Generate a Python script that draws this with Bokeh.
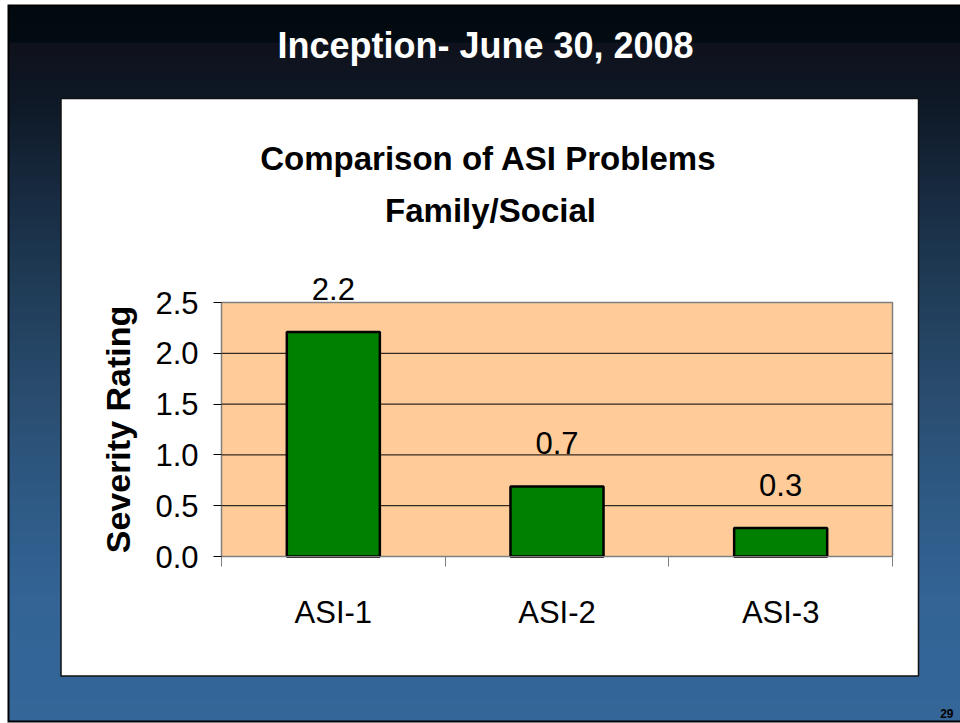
from bokeh.plotting import figure
from bokeh.models import (Range1d, FixedTicker, Label, LabelSet, LinearAxis,
                          ColumnDataSource, PrintfTickFormatter)
from bokeh.core.properties import value
from bokeh.embed import file_html
from bokeh.resources import INLINE

# ---- data ----
categories = ["ASI-1", "ASI-2", "ASI-3"]
severity = [2.21, 0.69, 0.28]
y_ticks = [0.0, 0.5, 1.0, 1.5, 2.0, 2.5]
slide_title = "Inception- June 30, 2008"
chart_title_1 = "Comparison of ASI Problems"
chart_title_2 = "Family/Social"
y_label = "Severity Rating"
page_number = "29"

FONT = "Liberation Sans"
W, H = 960, 723
FL, FR, FT, FB = 221, 892, 302, 556   # chart plot-area edges in canvas px

n = len(categories)
ymin, ymax = y_ticks[0], y_ticks[-1]
ux = n / (FR - FL)
uy = (ymax - ymin) / (FB - FT)
x_range = Range1d(0 - FL * ux, n + (W - FR) * ux)
y_range = Range1d(ymin - (H - FB) * uy, ymax + FT * uy)

p = figure(width=W, height=H, output_backend="svg", toolbar_location=None, tools="",
           x_range=x_range, y_range=y_range, min_border=0,
           x_axis_location=None, y_axis_location=None)
p.extra_x_ranges = {"px": Range1d(0, W)}
p.extra_y_ranges = {"py": Range1d(H, 0)}
p.outline_line_color = None
p.background_fill_color = "white"
p.border_fill_color = "white"
p.xgrid.visible = False
p.ygrid.visible = False

# ---- slide background ----
SL, ST, SB = 7, 4, 722        # slide edges (extends past right edge)
p.quad(left=[SL], right=[W], top=[ST], bottom=[SB], fill_color="black", line_color=None,
       x_range_name="px", y_range_name="py")

stops = [(0, (2, 10, 16)), (40, (3, 11, 18)), (44, (15, 18, 28)), (100, (14, 24, 38)),
         (200, (24, 44, 66)), (300, (33, 62, 90)), (400, (42, 77, 112)),
         (500, (46, 90, 133)), (600, (51, 100, 149)), (730, (52, 102, 153))]

def color_at(sy):
    for (y0, c0), (y1, c1) in zip(stops[:-1], stops[1:]):
        if y0 <= sy <= y1:
            t = (sy - y0) / (y1 - y0)
            c = [round(a + (b - a) * t) for a, b in zip(c0, c1)]
            return "#%02x%02x%02x" % tuple(c)
    return "#%02x%02x%02x" % stops[-1][1]

step = 4
bands = dict(l=[], r=[], t=[], b=[], c=[])
for y0 in range(ST + 2, SB - 2, step):
    bands["l"].append(SL + 2)
    bands["r"].append(W)
    bands["t"].append(y0)
    bands["b"].append(min(y0 + step + 0.5, SB - 2))
    bands["c"].append(color_at(y0 + step / 2))
p.quad(left="l", right="r", top="t", bottom="b", fill_color="c", line_color=None,
       source=ColumnDataSource(bands), x_range_name="px", y_range_name="py")

# white chart panel
PL, PR, PT, PB = 60.5, 918, 98, 675.5
p.quad(left=[PL], right=[PR], top=[PT], bottom=[PB], fill_color="white",
       line_color="#111111", line_width=1.5, x_range_name="px", y_range_name="py")

# plot area
p.quad(left=[0], right=[n], bottom=[ymin], top=[ymax], fill_color="#FFCC99",
       line_color="#808080", line_width=1.5)
inner = y_ticks[1:-1]
p.segment(x0=[0] * len(inner), x1=[n] * len(inner), y0=inner, y1=inner,
          line_color="black", line_width=1)

# ---- bars ----
centers = [i + 0.5 for i in range(n)]
src = ColumnDataSource(dict(x=centers, top=severity, cat=categories,
                            label=[f"{v:.1f}" for v in severity]))
p.vbar(x="x", top="top", bottom=ymin, width=0.416, source=src,
       fill_color="#008000", line_color="black", line_width=2.5)
p.add_layout(LabelSet(x="x", y="top", text="label", source=src, y_offset=32,
                      text_align="center", text_baseline="alphabetic",
                      text_font=value(FONT), text_font_size=value("31px"),
                      text_color="black"))

# ---- axes ----
yax = LinearAxis(fixed_location=0, bounds=(ymin, ymax))
yax.ticker = FixedTicker(ticks=y_ticks)
yax.formatter = PrintfTickFormatter(format="%.1f")
yax.major_label_text_font = FONT
yax.major_label_text_font_size = "31px"
yax.major_label_text_color = "black"
yax.major_tick_out = 8
yax.major_tick_in = 0
yax.minor_tick_out = 0
yax.minor_tick_in = 0
yax.major_label_standoff = 15
yax.axis_line_color = "#808080"
yax.major_tick_line_color = "black"
yax.axis_label = y_label
yax.axis_label_text_font = FONT
yax.axis_label_text_font_size = "34px"
yax.axis_label_text_font_style = "bold"
yax.axis_label_text_color = "black"
yax.axis_label_standoff = 15
p.add_layout(yax, "left")

xax = LinearAxis(fixed_location=ymin, bounds=(0, n))
xax.ticker = FixedTicker(ticks=centers, minor_ticks=list(range(n + 1)))
xax.major_label_overrides = {c: name for c, name in zip(centers, categories)}
xax.major_tick_out = 0
xax.major_tick_in = 0
xax.minor_tick_out = 10
xax.minor_tick_in = 0
xax.minor_tick_line_color = "#808080"
xax.axis_line_color = "#808080"
xax.major_label_standoff = 28
xax.major_label_text_font = FONT
xax.major_label_text_font_size = "31px"
xax.major_label_text_color = "black"
p.add_layout(xax, "below")

# ---- titles ----
p.add_layout(Label(x=485, y=45, x_range_name="px", y_range_name="py", text=slide_title,
                   text_align="center", text_baseline="alphabetic", text_color="white",
                   text_font=FONT, text_font_style="bold", text_font_size="36px"))
p.add_layout(Label(x=488, y=158, x_range_name="px", y_range_name="py", text=chart_title_1,
                   text_align="center", text_baseline="alphabetic", text_color="black",
                   text_font=FONT, text_font_style="bold", text_font_size="33px"))
p.add_layout(Label(x=490, y=210, x_range_name="px", y_range_name="py", text=chart_title_2,
                   text_align="center", text_baseline="alphabetic", text_color="black",
                   text_font=FONT, text_font_style="bold", text_font_size="33px"))
p.add_layout(Label(x=953, y=713, x_range_name="px", y_range_name="py", text=page_number,
                   text_align="right", text_baseline="alphabetic", text_color="black",
                   text_font=FONT, text_font_style="bold", text_font_size="12px"))

open("out.html", "w").write(file_html(p, INLINE))
